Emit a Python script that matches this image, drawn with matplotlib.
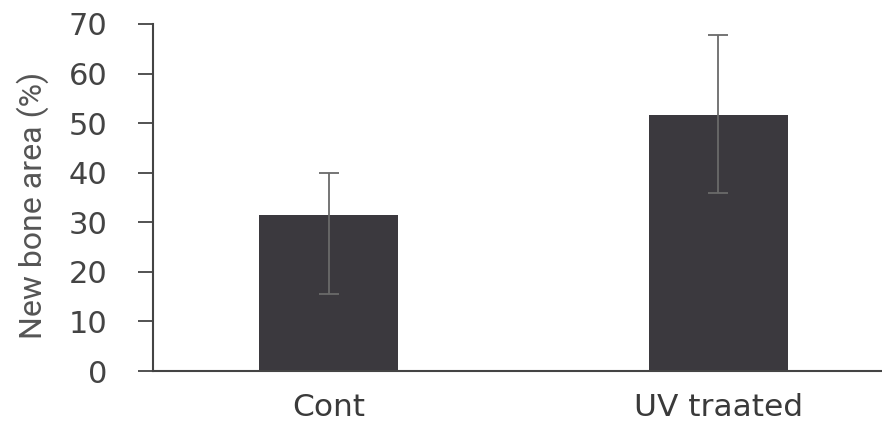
import matplotlib.pyplot as plt
import numpy as np

groups = ['Cont', 'UV traated']
means = [31.5, 51.6]
err_low = [16.0, 15.7]
err_high = [8.5, 16.1]

fig = plt.figure(figsize=(8.82, 4.28), dpi=100)
ax = fig.add_axes([0.174, 0.133, 0.826, 0.811])

x = np.arange(len(groups))
ax.bar(x, means, width=0.357, color='#3b393e', zorder=2)
ax.errorbar(x, means, yerr=[err_low, err_high], fmt='none', ecolor='#6a6a6a',
            elinewidth=1.3, capsize=7, capthick=1.3, zorder=3)

ax.set_xlim(-0.45, 1.42)
ax.set_ylim(0, 70)
ax.set_yticks(range(0, 71, 10))
ax.set_xticks(x)
ax.set_xticklabels(groups, fontsize=22.5, color='#3a3a3a')
ax.tick_params(axis='x', length=0, pad=16)
ax.tick_params(axis='y', length=11, width=1.3, color='#444444', labelsize=22,
               labelcolor='#444444', pad=22, direction='out')
ax.set_ylabel('New bone area (%)', fontsize=23, color='#555555', family='Roboto')
ax.yaxis.set_label_coords(-0.143, 0.478)

for s in ['top', 'right']:
    ax.spines[s].set_visible(False)
for s in ['left', 'bottom']:
    ax.spines[s].set_color('#444444')
    ax.spines[s].set_linewidth(1.5)

plt.savefig('out.png', dpi=100)
